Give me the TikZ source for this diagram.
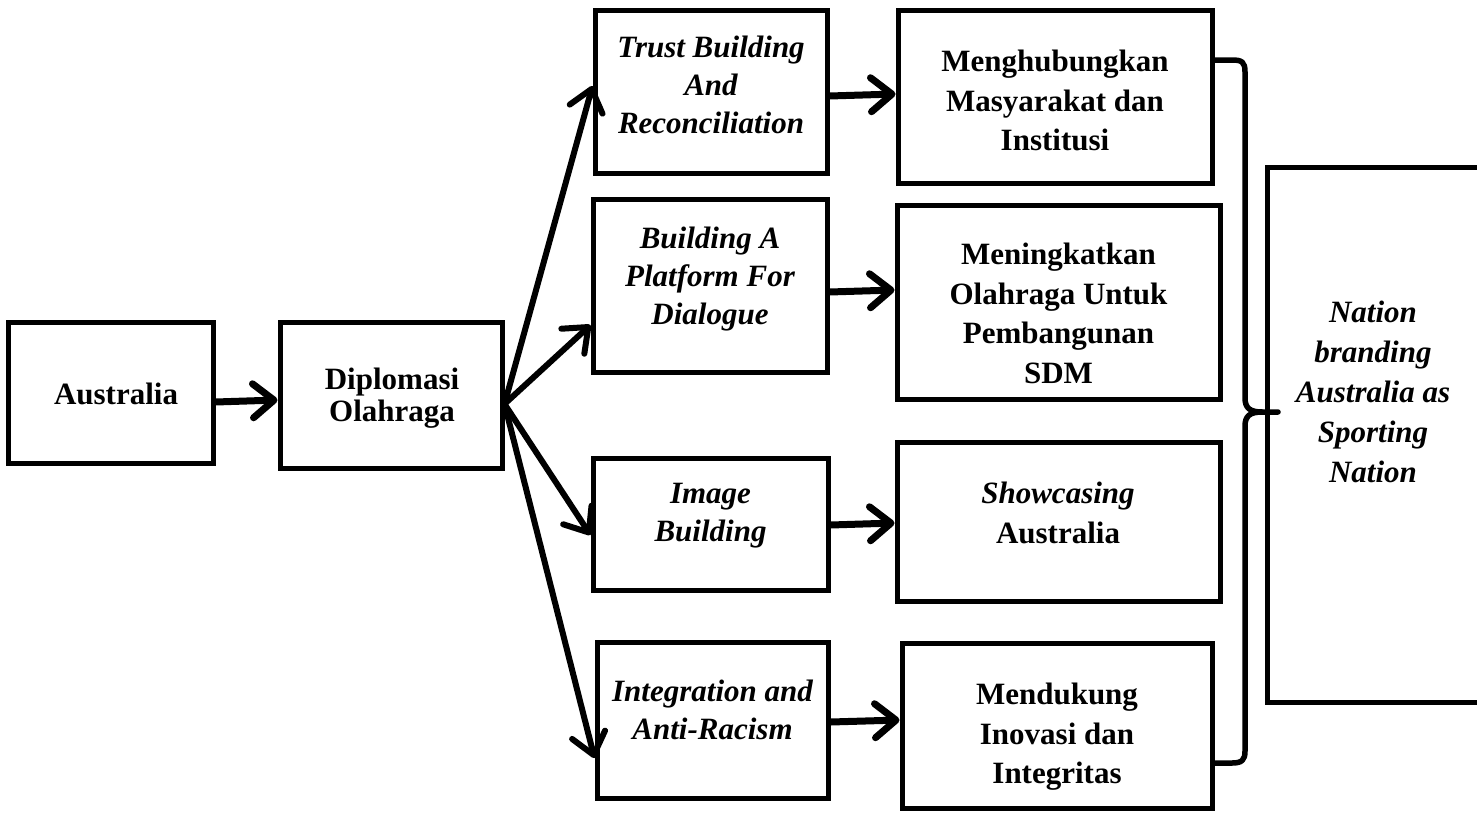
\documentclass[tikz,border=0pt]{standalone}
\usepackage{fontspec}
\setmainfont{Liberation Serif}
\usetikzlibrary{arrows.meta}
\begin{document}
\begin{tikzpicture}[x=1pt,y=-1pt,
  box/.style={draw, line width=5pt, inner sep=0pt},
  ltxt/.style={font=\fontsize{31}{32}\selectfont\bfseries, align=center, inner sep=0pt, anchor=north},
  mtxt/.style={font=\fontsize{31}{38}\selectfont\bfseries\itshape, align=center, inner sep=0pt, anchor=north},
  rtxt/.style={font=\fontsize{31}{39.5}\selectfont\bfseries, align=center, inner sep=0pt, anchor=north},
  ntxt/.style={font=\fontsize{31}{40}\selectfont\bfseries\itshape, align=center, inner sep=0pt, anchor=north},
  arr/.style={line width=7pt, -{Straight Barb[length=21pt,width=34pt,round]}},
  fan/.style={line width=6pt, -{Straight Barb[length=21pt,width=34pt,round]}},
  brace/.style={line width=5.5pt, line cap=round, line join=round}
]
\useasboundingbox (0,0) rectangle (1477,812);
\fill[white] (0,0) rectangle (1477,812);

% boxes
\node[box, minimum width=205pt, minimum height=141pt] (aus) at (110.5,392.5) {};
\node[box, minimum width=222pt, minimum height=146pt] (dip) at (391,395) {};
\node[box, minimum width=232pt, minimum height=163pt] (trust) at (711,91.5) {};
\node[box, minimum width=234pt, minimum height=173pt] (plat) at (710,285.5) {};
\node[box, minimum width=235pt, minimum height=132pt] (img) at (710.5,524) {};
\node[box, minimum width=231pt, minimum height=156pt] (integ) at (712.5,720) {};
\node[box, minimum width=314pt, minimum height=173pt] (mengh) at (1055,96.5) {};
\node[box, minimum width=323pt, minimum height=194pt] (mening) at (1058.5,302) {};
\node[box, minimum width=323pt, minimum height=159pt] (show) at (1058.5,521.5) {};
\node[box, minimum width=310pt, minimum height=165pt] (mend) at (1057,725.5) {};
\node[box, minimum width=228pt, minimum height=535pt] (nation) at (1381,434.5) {};

% texts
\node[ltxt] (ausT) at (116,383) {Australia};
\node[ltxt] (dipT) at (392,368) {Diplomasi\\Olahraga};
\node[mtxt] (trustT) at (711,36) {Trust Building\\And\\Reconciliation};
\node[mtxt] (platT) at (710,227) {Building A\\Platform For\\Dialogue};
\node[mtxt] (imgT) at (710.5,483) {Image\\Building};
\node[mtxt] (integT) at (712.5,680) {Integration and\\Anti-Racism};
\node[rtxt] (menghT) at (1055,50) {Menghubungkan\\Masyarakat dan\\Institusi};
\node[rtxt] (meningT) at (1058.5,243) {Meningkatkan\\Olahraga Untuk\\Pembangunan\\SDM};
\node[rtxt] (showT) at (1058,482) {\textit{Showcasing}\\Australia};
\node[rtxt] (mendT) at (1057,683) {Mendukung\\Inovasi dan\\Integritas};
\node[ntxt] (nationT) at (1373,301) {Nation\\branding\\Australia as\\Sporting\\Nation};

% arrows
\draw[arr] ([yshift=-9.5pt]aus.east) -- ([yshift=-5pt]dip.west);
\draw[fan] ([yshift=-9pt]dip.east) -- ([yshift=5.5pt]trust.west);
\draw[fan] ([yshift=-9pt]dip.east) -- ([yshift=-39.5pt]plat.west);
\draw[fan] ([yshift=-9pt]dip.east) -- ([yshift=-11pt]img.west);
\draw[fan] ([yshift=-9pt]dip.east) -- ([yshift=-38pt]integ.west);
\draw[arr] ([yshift=-4.5pt]trust.east) -- ([yshift=2.5pt]mengh.west);
\draw[arr] ([yshift=-6.5pt]plat.east) -- ([yshift=12pt]mening.west);
\draw[arr] ([yshift=-1pt]img.east) -- ([yshift=-1.5pt]show.west);
\draw[arr] ([yshift=-2pt]integ.east) -- ([yshift=5.5pt]mend.west);

% brace
\coordinate (tip) at (1278,412);
\draw[brace] ([yshift=36.5pt]mengh.east) -- (1232,60) .. controls (1242,60) and (1245,62) .. (1245,72)
  -- (1245,398) .. controls (1245,408) and (1250,412) .. (1262,412) -- (tip);
\draw[brace] (1262,412) .. controls (1250,412) and (1245,416) .. (1245,426)
  -- (1245,751) .. controls (1245,760) and (1242,763) .. (1232,763) -- ([yshift=-37.5pt]mend.east);
\end{tikzpicture}
\end{document}
